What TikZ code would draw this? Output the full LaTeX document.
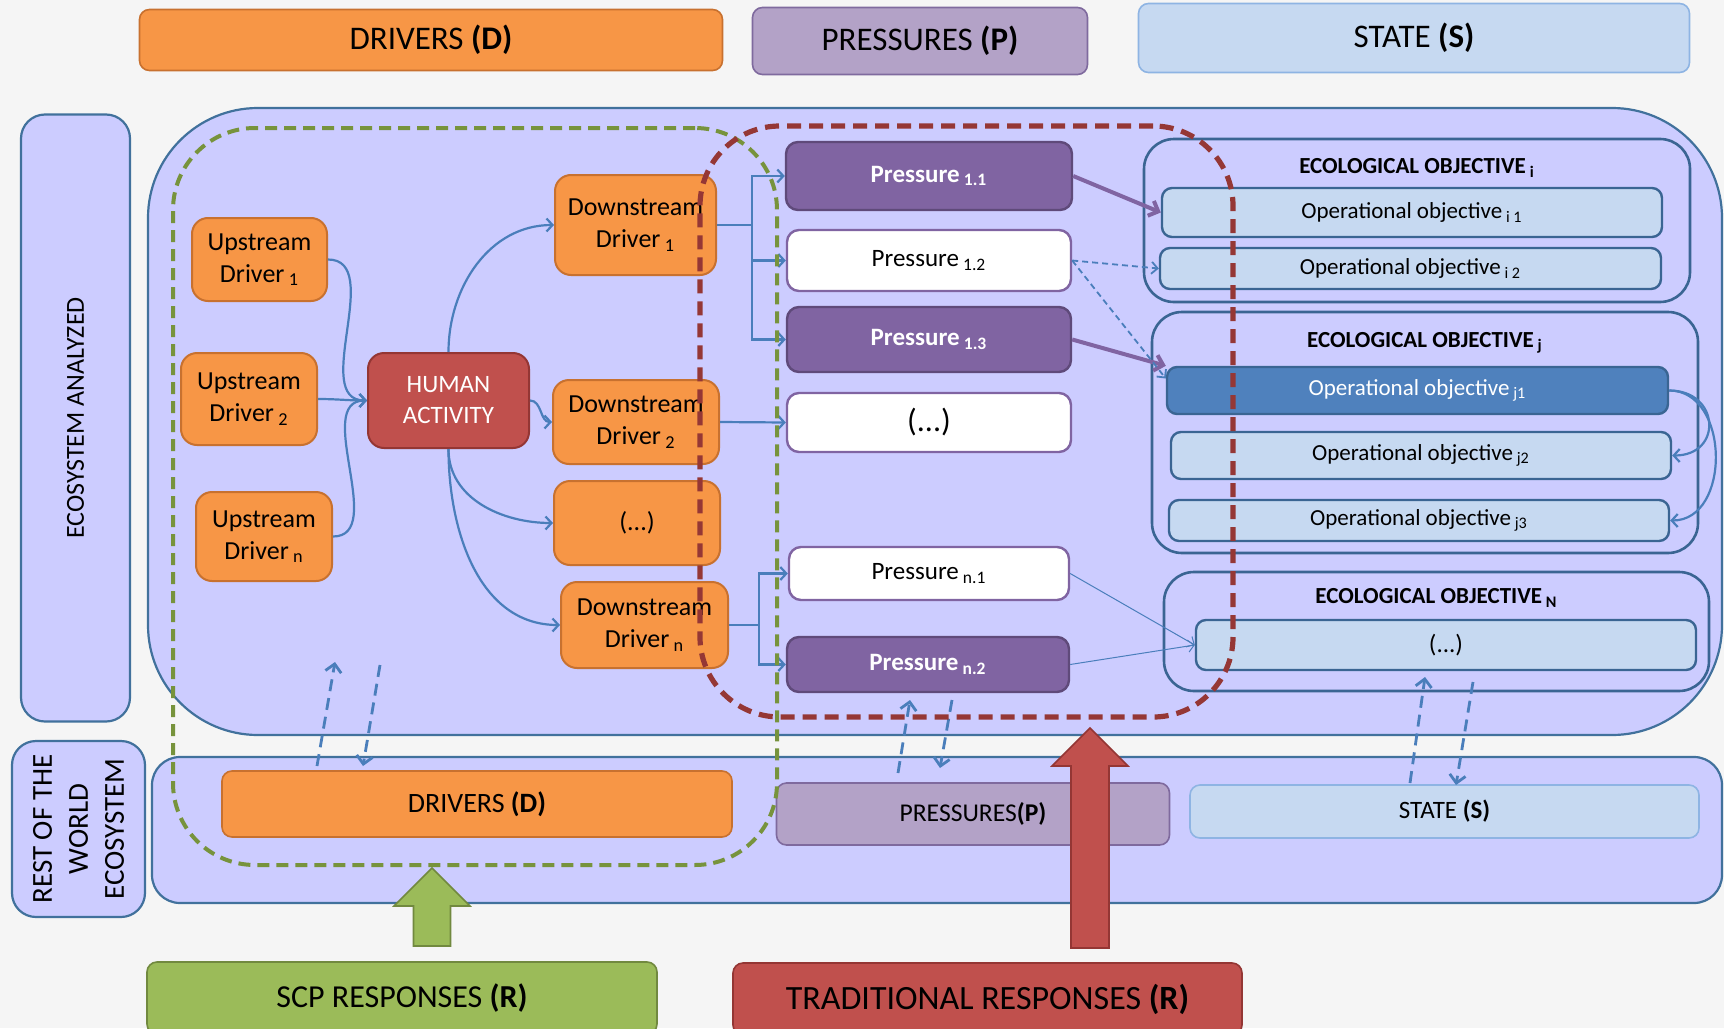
\documentclass[tikz,border=0pt]{standalone}
\usepackage{fontspec}
\setmainfont{Carlito}
\usepackage{xcolor}
\usepackage{tikz}
\usetikzlibrary{
    positioning,
    arrows.meta,
    calc
}

\definecolor{lavender}{HTML}{CCCCFF}
\definecolor{arealine}{HTML}{41719C}
\definecolor{orgfill}{HTML}{F79646}
\definecolor{orgline}{HTML}{C8712F}
\definecolor{humfill}{HTML}{C0504D}
\definecolor{humline}{HTML}{943634}
\definecolor{prsfill}{HTML}{8064A2}
\definecolor{prsline}{HTML}{5F4A7A}
\definecolor{lilfill}{HTML}{B3A2C7}
\definecolor{lilline}{HTML}{7F6A9E}
\definecolor{ltblue}{HTML}{C6D9F1}
\definecolor{stline}{HTML}{8EB4E3}
\definecolor{eoline}{HTML}{3A6593}
\definecolor{opdark}{HTML}{4F81BD}
\definecolor{lnk}{HTML}{4A7EBB}
\definecolor{scpfill}{HTML}{9BBB59}
\definecolor{scpline}{HTML}{71893F}
\definecolor{scpdash}{HTML}{77933C}
\definecolor{traddash}{HTML}{953735}

\newcommand{\subsc}[1]{\,\textsubscript{#1}}
\newcommand{\fsz}[2]{\fontsize{#1}{#2}\selectfont}

\begin{document}
\begin{tikzpicture}[x=0.5pt, y=-0.5pt,
    hdr/.style={draw, rounded corners=5pt, line width=0.8pt, inner sep=0pt, font=\fsz{16.5}{20}},
    side/.style={draw=arealine, fill=lavender, rounded corners=12pt, line width=1.1pt,
                 inner sep=0pt, font=\fsz{13}{16}},
    area/.style={draw=arealine, fill=lavender, line width=1.1pt, inner sep=0pt},
    drv/.style={draw=orgline, fill=orgfill, rounded corners=8pt, line width=1pt,
                align=center, inner sep=0pt, font=\fsz{13}{16}},
    prs/.style={draw=prsline, fill=prsfill, text=white, rounded corners=6pt, line width=1.2pt,
                inner sep=0pt, font=\bfseries\fsz{12.5}{15}},
    prsw/.style={prs, draw=prsfill, fill=white, text=black, font=\fsz{12.5}{15}},
    eobj/.style={draw=eoline, rounded corners=15pt, line width=1.3pt, inner sep=0pt},
    opobj/.style={draw=eoline, fill=ltblue, rounded corners=5pt, line width=1.2pt,
                  inner sep=0pt, font=\fsz{11.5}{14}},
    eotitle/.style={inner sep=0pt, font=\bfseries\fsz{11.5}{14}},
    zone/.style={rounded corners=41pt, inner sep=0pt},
    link/.style={-{Straight Barb[length=3pt,width=6.5pt]}, line width=1.1pt, draw=lnk},
    plink/.style={-{Straight Barb[length=4pt,width=8pt]}, line width=2pt, draw=prsfill},
    tlink/.style={-{Straight Barb[length=3pt,width=6pt]}, line width=0.5pt, draw=lnk},
    dlink/.style={-{Straight Barb[length=4pt,width=8pt]}, line width=1.4pt, draw=lnk,
                  dash pattern=on 6pt off 3.5pt},
    dlinkthin/.style={-{Straight Barb[length=3pt,width=6pt]}, line width=0.9pt, draw=lnk,
                      dash pattern=on 3pt off 2pt},
    blockarr/.style={line width=0.8pt}]

    \clip (0,0) rectangle (1724,1028);
    \fill[white!96!black] (0,0) rectangle (1724,1028);

    % ============ HEADERS ============
    \node[hdr, fill=orgfill, draw=orgline, minimum width=291.5pt, minimum height=30.5pt] (topD) at (431,40)
      {DRIVERS \textbf{(D)}};
    \node[hdr, fill=lilfill, draw=lilline, minimum width=167.5pt, minimum height=33.5pt] (topP) at (920,41)
      {PRESSURES \textbf{(P)}};
    \node[hdr, fill=ltblue, draw=stline, minimum width=275.5pt, minimum height=34.5pt] (topS) at (1414,38)
      {STATE \textbf{(S)}};

    % ============ SIDE LABELS AND AREAS ============
    \node[side, rotate=90, minimum width=303.5pt, minimum height=54.5pt] (ecoSide) at (75.5,418)
      {ECOSYSTEM ANALYZED};
    \node[side, rotate=90, minimum width=88pt, minimum height=66.5pt, align=center,
          font=\fsz{14.5}{18}] (rowSide) at (78.5,829)
      {REST OF THE\\WORLD\\ECOSYSTEM};

    \node[area, rounded corners=55pt, minimum width=787pt, minimum height=313.5pt] (ecoArea) at (935,421.5) {};
    \node[area, rounded corners=14pt, minimum width=785pt, minimum height=73pt] (rowArea) at (937,830) {};

    % ============ DRIVERS ============
    \node[drv, minimum width=67.5pt, minimum height=41.5pt] (UD1) at (259.5,259.5) {Upstream\\Driver\subsc{1}};
    \node[drv, minimum width=68pt, minimum height=46pt] (UD2) at (249,399) {Upstream\\Driver\subsc{2}};
    \node[drv, minimum width=68pt, minimum height=44.5pt] (UDn) at (264,536.5) {Upstream\\Driver\subsc{n}};

    \node[drv, draw=humline, fill=humfill, text=white, minimum width=80.5pt, minimum height=47.5pt,
          font=\fsz{12.5}{15.5}] (HA) at (448.5,400.5) {HUMAN\\ACTIVITY};

    \node[drv, minimum width=80.5pt, minimum height=50pt] (DD1) at (635.5,225) {Downstream\\Driver\subsc{1}};
    \node[drv, minimum width=83pt, minimum height=42pt] (DD2) at (636,422) {Downstream\\Driver\subsc{2}};
    \node[drv, minimum width=83pt, minimum height=42pt] (DDx) at (637,523) {(...)};
    \node[drv, minimum width=83.5pt, minimum height=43pt] (DDn) at (644.5,625) {Downstream\\Driver\subsc{n}};

    \draw[link] (UD1.east) to[out=0, in=180] (HA.west);
    \draw[link] (UD2.east) to[out=0, in=180] (HA.west);
    \draw[link] (UDn.east) to[out=0, in=180] (HA.west);
    \draw[link] (HA.north) to[out=90, in=180] (DD1.west);
    \draw[link] (HA.east) to[out=0, in=180] (DD2.west);
    \draw[link] (HA.south) to[out=-90, in=180] (DDx.west);
    \draw[link] (HA.south) to[out=-90, in=180] (DDn.west);

    % ============ PRESSURES ============
    \node[prs, minimum width=143pt, minimum height=34pt] (P11) at (929,176) {Pressure\subsc{1.1}};
    \node[prsw, minimum width=142pt, minimum height=30.5pt] (P12) at (929,260.5) {Pressure\subsc{1.2}};
    \node[prs, minimum width=142pt, minimum height=32.5pt] (P13) at (929,339.5) {Pressure\subsc{1.3}};
    \node[prsw, minimum width=142pt, minimum height=29.5pt, font=\fsz{16}{19}] (Px) at (929,422.5) {(...)};
    \node[prsw, minimum width=140pt, minimum height=26.5pt] (Pn1) at (929,573.5) {Pressure\subsc{n.1}};
    \node[prs, minimum width=141pt, minimum height=27.5pt] (Pn2) at (928,664.5) {Pressure\subsc{n.2}};

    \draw[link] (DD1.east) -- ++(35,0) |- (P11.west);
    \draw[link] (DD1.east) -- ++(35,0) |- (P12.west);
    \draw[link] (DD1.east) -- ++(35,0) |- (P13.west);
    \draw[link] (DD2.east) -- (Px.west);
    \draw[link] (DDn.east) -- ++(30,0) |- (Pn1.west);
    \draw[link] (DDn.east) -- ++(30,0) |- (Pn2.west);

    % ============ ECOLOGICAL OBJECTIVES ============
    \node[eobj, minimum width=273pt, minimum height=81.5pt] (EOi) at (1417,220.5) {};
    \node[eotitle] (EOiT) at (1417,168) {ECOLOGICAL OBJECTIVE\subsc{i}};
    \node[opobj, minimum width=250pt, minimum height=24.5pt] (OI1) at (1412,212.5) {Operational objective\subsc{i 1}};
    \node[opobj, minimum width=250.5pt, minimum height=20.5pt] (OI2) at (1410.5,268.5) {Operational objective\subsc{i 2}};

    \node[eobj, minimum width=273pt, minimum height=120.5pt] (EOj) at (1425,432.5) {};
    \node[eotitle] (EOjT) at (1425,343) {ECOLOGICAL OBJECTIVE\subsc{j}};
    \node[opobj, fill=opdark, text=white, minimum width=250.5pt, minimum height=23.5pt] (OJ1) at (1417.5,390.5)
      {Operational objective\subsc{j1}};
    \node[opobj, minimum width=250pt, minimum height=23.5pt] (OJ2) at (1421,455.5) {Operational objective\subsc{j2}};
    \node[opobj, minimum width=250pt, minimum height=20.5pt] (OJ3) at (1419,520.5) {Operational objective\subsc{j3}};

    \node[eobj, minimum width=272.5pt, minimum height=59.5pt] (EON) at (1436.5,631.5) {};
    \node[eotitle] (EONT) at (1436.5,598) {ECOLOGICAL OBJECTIVE\subsc{N}};
    \node[opobj, minimum width=250pt, minimum height=25pt, font=\fsz{12.5}{15}] (ONx) at (1446,645) {(...)};

    \draw[plink] (P11.east) -- (OI1.west);
    \draw[plink] (P13.east) -- (OJ1.north west);
    \draw[dlinkthin] (P12.east) -- (OI2.west);
    \draw[dlinkthin] (P12.east) -- ([yshift=6pt]OJ1.west);
    \draw[tlink] (Pn1.east) -- (ONx.west);
    \draw[tlink] (Pn2.east) -- (ONx.west);
    \draw[link] (OJ1.east) to[out=0, in=0, looseness=2] (OJ2.east);
    \draw[link] (OJ1.east) to[out=0, in=0, looseness=1.2] (OJ3.east);

    % ============ REST OF THE WORLD ============
    \node[hdr, fill=orgfill, draw=orgline, minimum width=255pt, minimum height=33pt, font=\fsz{14}{17}] (botD) at (477,804)
      {DRIVERS \textbf{(D)}};
    \node[hdr, fill=lilfill, draw=lilline, minimum width=196.5pt, minimum height=31pt, font=\fsz{12.8}{15}] (botP) at (973,814)
      {PRESSURES\textbf{(P)}};
    \node[hdr, fill=ltblue, draw=stline, minimum width=254.5pt, minimum height=26.5pt, font=\fsz{12.5}{15}] (botS) at (1444.5,811.5)
      {STATE \textbf{(S)}};

    \coordinate (dU0) at (317,766);  \coordinate (dU1) at (335,662);
    \coordinate (dD0) at (380,665);  \coordinate (dD1) at (363,766);
    \coordinate (pU0) at (898,773);  \coordinate (pU1) at (910,700);
    \coordinate (pD0) at (952,700);  \coordinate (pD1) at (940,768);
    \coordinate (sU0) at (1410,783); \coordinate (sU1) at (1425,677);
    \coordinate (sD0) at (1473,682); \coordinate (sD1) at (1456,785);

    \draw[dlink] (dU0) -- (dU1);
    \draw[dlink] (dD0) -- (dD1);
    \draw[dlink] (pU0) -- (pU1);
    \draw[dlink] (pD0) -- (pD1);
    \draw[dlink] (sU0) -- (sU1);
    \draw[dlink] (sD0) -- (sD1);

    % ============ RESPONSE ZONES ============
    \node[zone, draw=scpdash, line width=2pt, dash pattern=on 6pt off 3.5pt,
          minimum width=302pt, minimum height=368.5pt] (scpZone) at (475,496.5) {};
    \node[zone, draw=traddash, line width=2.6pt, dash pattern=on 7pt off 4pt, rounded corners=40pt,
          minimum width=266.5pt, minimum height=295.5pt] (tradZone) at (966.5,421.5) {};

    % ============ RESPONSES ============
    \node[hdr, fill=scpfill, draw=scpline, minimum width=255pt, minimum height=36pt, font=\fsz{16}{19}] (scpR) at (402,998)
      {SCP RESPONSES \textbf{(R)}};
    \node[hdr, fill=humfill, draw=humline, minimum width=254.5pt, minimum height=36pt, font=\fsz{17}{20}] (tradR) at (987.5,999)
      {TRADITIONAL RESPONSES \textbf{(R)}};

    \coordinate (scpTip) at (432,868);
    \coordinate (tradTip) at (1090,728);
    \filldraw[blockarr, fill=scpfill, draw=scpline] (scpTip) -- ++(-38,38) -- ++(19.5,0) -- ++(0,40)
      -- ++(37,0) -- ++(0,-40) -- ++(19.5,0) -- cycle;
    \filldraw[blockarr, fill=humfill, draw=humline] (tradTip) -- ++(-38,38) -- ++(19,0) -- ++(0,182)
      -- ++(38,0) -- ++(0,-182) -- ++(19,0) -- cycle;

  \end{tikzpicture}
\end{document}
